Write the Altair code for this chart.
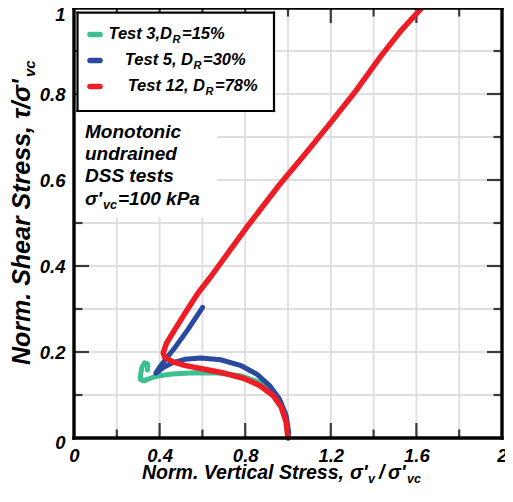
import altair as alt
import pandas as pd

FONT = "Liberation Sans"
W, H = 428, 430

# ---- data ----
t3_x = [1.0, 0.996, 0.985, 0.968, 0.93, 0.868, 0.777, 0.67, 0.563, 0.456, 0.379, 0.326, 0.31, 0.312, 0.318, 0.33, 0.345, 0.343]
t3_y = [0.0, 0.03, 0.055, 0.08, 0.106, 0.129, 0.145, 0.151, 0.152, 0.149, 0.143, 0.133, 0.136, 0.15, 0.165, 0.175, 0.172, 0.158]

t5_x = [1.0, 1.003, 0.991, 0.96, 0.914, 0.853, 0.777, 0.685, 0.593, 0.517, 0.456, 0.417, 0.392, 0.382, 0.402, 0.425, 0.471, 0.532, 0.601]
t5_y = [0.0, 0.014, 0.053, 0.091, 0.122, 0.149, 0.169, 0.182, 0.186, 0.183, 0.174, 0.164, 0.154, 0.151, 0.166, 0.181, 0.21, 0.252, 0.304]

t12_x = [1.0, 0.991, 0.968, 0.93, 0.868, 0.792, 0.70, 0.609, 0.517, 0.463, 0.425, 0.417, 0.433, 0.471, 0.524, 0.578, 0.639, 0.807, 0.96, 1.083, 1.189, 1.312, 1.434, 1.526, 1.625]
t12_y = [0.0, 0.0375, 0.072, 0.099, 0.122, 0.139, 0.151, 0.160, 0.169, 0.177, 0.187, 0.198, 0.221, 0.252, 0.294, 0.336, 0.375, 0.490, 0.589, 0.662, 0.727, 0.804, 0.888, 0.946, 1.0]

grid_x = [0.2, 0.4, 0.6, 0.8, 1.0, 1.2, 1.4, 1.6, 1.8]
grid_y = [0.1, 0.2, 0.3, 0.4, 0.5, 0.6, 0.7, 0.8, 0.9]
major_x = [0.4, 0.8, 1.2, 1.6]
minor_x = [0.2, 0.6, 1.0, 1.4, 1.8]
major_y = [0.2, 0.4, 0.6, 0.8]
minor_y = [0.1, 0.3, 0.5, 0.7, 0.9]
label_x = [0, 0.4, 0.8, 1.2, 1.6, 2]
label_y = [0, 0.2, 0.4, 0.6, 0.8, 1]

names = ["Test 3", "Test 5", "Test 12"]
colors = ["#3cbf91", "#2a4aa0", "#ee1c25"]

# ---- scales / axes ----
xs = alt.Scale(domain=[0, 2], nice=False, zero=False)
ys = alt.Scale(domain=[0, 1], nice=False, zero=False)
xaxis = alt.Axis(values=label_x, format="~g", title=None, domain=False, ticks=False, tickSize=0,
                 grid=False, labelFont=FONT, labelFontSize=18.5, labelFontStyle="italic",
                 labelFontWeight="bold", labelColor="black", labelPadding=8, labelFlush=False,
                 labelOverlap=False)
yaxis = alt.Axis(values=label_y, format="~g", title=None, domain=False, ticks=False, tickSize=0,
                 grid=False, labelFont=FONT, labelFontSize=18.5, labelFontStyle="italic",
                 labelFontWeight="bold", labelColor="black", labelPadding=9, labelFlush=False,
                 labelOverlap=False,
                 labelOffset={"condition": [{"test": "datum.value == 1", "value": 6},
                                            {"test": "datum.value == 0", "value": 4}], "value": 0})

X = alt.X("x:Q", scale=xs, axis=xaxis)
Y = alt.Y("y:Q", scale=ys, axis=yaxis)

one = alt.Data(values=[{"a": 1}])

layers = []

# grid
layers.append(alt.Chart(pd.DataFrame({"x": grid_x})).mark_rule(color="#dedede", strokeWidth=1.8).encode(x=X))
layers.append(alt.Chart(pd.DataFrame({"y": grid_y})).mark_rule(color="#dedede", strokeWidth=1.8).encode(y=Y))

# inward ticks on all four sides
def xt(vals, length):
    d = pd.DataFrame({"x": vals})
    m = dict(color="#3a3a3a", strokeWidth=2.2)
    return [alt.Chart(d).mark_rule(**m).encode(x=X, y=alt.value(H), y2=alt.value(H - length)),
            alt.Chart(d).mark_rule(**m).encode(x=X, y=alt.value(0), y2=alt.value(length))]

def yt(vals, length):
    d = pd.DataFrame({"y": vals})
    m = dict(color="#3a3a3a", strokeWidth=2.2)
    return [alt.Chart(d).mark_rule(**m).encode(y=Y, x=alt.value(0), x2=alt.value(length)),
            alt.Chart(d).mark_rule(**m).encode(y=Y, x=alt.value(W), x2=alt.value(W - length))]

layers += xt(major_x, 15) + xt(minor_x, 8.5) + yt(major_y, 15) + yt(minor_y, 8.5)


def box_lines(x0, x1, y0, y1, width):
    m = dict(color="black", strokeWidth=width, strokeCap="square")
    return [
        alt.Chart(one).mark_rule(**m).encode(x=alt.value(x0), x2=alt.value(x1), y=alt.value(y0), y2=alt.value(y0)),
        alt.Chart(one).mark_rule(**m).encode(x=alt.value(x0), x2=alt.value(x1), y=alt.value(y1), y2=alt.value(y1)),
        alt.Chart(one).mark_rule(**m).encode(x=alt.value(x0), x2=alt.value(x0), y=alt.value(y0), y2=alt.value(y1)),
        alt.Chart(one).mark_rule(**m).encode(x=alt.value(x1), x2=alt.value(x1), y=alt.value(y0), y2=alt.value(y1)),
    ]


# white panel behind the annotation
layers.append(alt.Chart(one).mark_rect(fill="white").encode(
    x=alt.value(0), x2=alt.value(143), y=alt.value(103), y2=alt.value(209)))

# curves
for nm, xv, yv, c, w in zip(names, [t3_x, t5_x, t12_x], [t3_y, t5_y, t12_y], colors, [5, 5, 5.5]):
    df = pd.DataFrame({"x": xv, "y": yv, "i": list(range(len(xv))), "test": nm})
    layers.append(alt.Chart(df).mark_line(color=c, strokeWidth=w, strokeCap="round", strokeJoin="round")
                  .encode(x=X, y=Y, order="i:Q"))

# legend box
layers.append(alt.Chart(one).mark_rect(fill="white").encode(
    x=alt.value(3.5), x2=alt.value(200), y=alt.value(4.7), y2=alt.value(103)))
layers += box_lines(3.5, 200, 4.7, 103, 2.2)


def txt(s, x, y, size, align="left", angle=0):
    return alt.Chart(one).mark_text(text=s, align=align, baseline="alphabetic", font=FONT, fontSize=size,
                                    fontStyle="italic", fontWeight="bold", angle=angle,
                                    color="black").encode(x=alt.value(x), y=alt.value(y))

leg_main = ["Test 3,D", "Test 5, D", "Test 12, D"]
leg_pct = ["=15%", "=30%", "=78%"]
leg_dend = [98, 119, 131]
leg_base = [31, 57, 83]
for k in range(3):
    yb = leg_base[k]
    layers.append(alt.Chart(one).mark_rule(color=colors[k], strokeWidth=5.5, strokeCap="round").encode(
        x=alt.value(16), x2=alt.value(26), y=alt.value(yb - 4.5), y2=alt.value(yb - 4.5)))
    layers.append(txt(leg_main[k], leg_dend[k], yb, 16.5, align="right"))
    layers.append(txt("R", leg_dend[k] + 0.5, yb + 4, 11))
    layers.append(txt(leg_pct[k], leg_dend[k] + 10, yb, 16.5))

# annotation
layers.append(txt("Monotonic", 11, 129.5, 19))
layers.append(txt("undrained", 11, 152, 19))
layers.append(txt("DSS tests", 11, 174, 19))
layers.append(txt("σ'", 11, 197, 19))
layers.append(txt("vc", 29, 201, 12.5))
layers.append(txt("=100 kPa", 44, 197, 19))

# frame
layers += box_lines(0, W, 0, H, 3.4)

# x axis title
layers.append(txt("Norm. Vertical Stress,", 68, 471, 19.5))
layers.append(txt("σ'", 276, 471, 19.5))
layers.append(txt("v", 294, 475, 12.5))
layers.append(txt("/", 305, 471, 19.5))
layers.append(txt("σ'", 314, 471, 19.5))
layers.append(txt("vc", 333, 475, 12.5))

# y axis title (rotated, reads bottom to top)
layers.append(txt("Norm. Shear Stress,", -44, 357, 25, angle=270))
layers.append(txt("τ/σ'", -44, 111, 25, angle=270))
layers.append(txt("vc", -39, 69, 15, angle=270))

chart = alt.layer(*layers).properties(
    width=W, height=H,
    autosize=alt.AutoSizeParams(type="none"),
    padding={"left": 66, "top": 0, "right": 3, "bottom": 50},
    background="white",
).configure_view(strokeWidth=0)

chart.save("out.html", embed_options={"renderer": "svg", "actions": False})
